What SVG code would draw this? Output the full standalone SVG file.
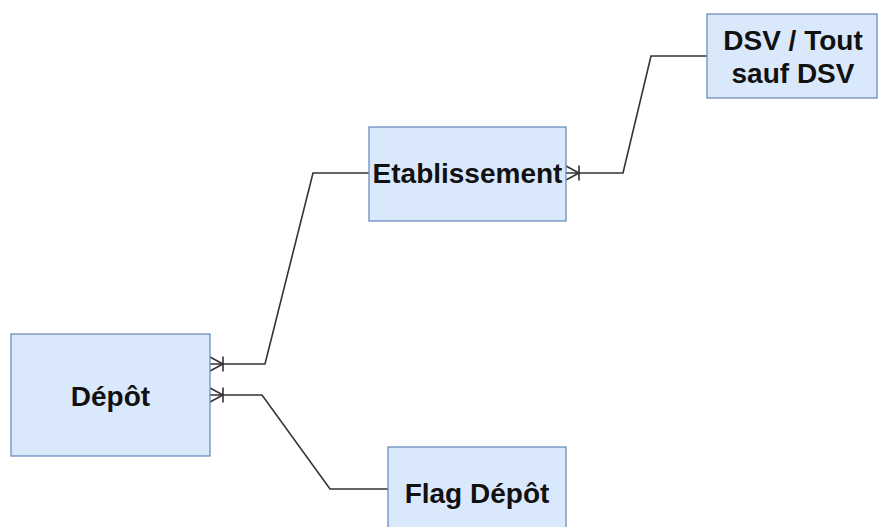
<svg xmlns="http://www.w3.org/2000/svg" width="880" height="527" viewBox="0 0 880 527">
<style>
.box{fill:#dae8fc;stroke:#6c8ebf;stroke-width:1.3}
.lbl{font-family:"Liberation Sans",Arial,sans-serif;font-weight:bold;font-size:28px;fill:#111;text-anchor:middle}
.edge{fill:none;stroke:#333;stroke-width:1.6}
</style>
<rect width="880" height="527" fill="#fff"/>
<g id="connectors">
<path class="edge" d="M210,364 H265 L313,173 H369"/>
<path class="edge" d="M210,357 L223,364 L210,371 M223,356.5 V371.5"/>
<path class="edge" d="M210,395 H262 L330,489 H388"/>
<path class="edge" d="M210,388 L223,395 L210,402 M223,387.5 V402.5"/>
<path class="edge" d="M566,173 H623 L651,56 H707"/>
<path class="edge" d="M566,166 L579,173 L566,180 M579,165.5 V180.5"/>
</g>
<g id="depot">
<rect class="box" x="11" y="334" width="199" height="122"/>
<text class="lbl" x="110.5" y="406">Dépôt</text>
</g>
<g id="etablissement">
<rect class="box" x="369" y="127" width="197" height="94"/>
<text class="lbl" x="467.5" y="183">Etablissement</text>
</g>
<g id="dsv">
<rect class="box" x="707" y="14" width="170" height="84"/>
<text class="lbl" x="793" y="50">DSV / Tout</text>
<text class="lbl" x="793" y="83">sauf DSV</text>
</g>
<g id="flag">
<rect class="box" x="388" y="447" width="178" height="90"/>
<text class="lbl" x="477" y="503">Flag Dépôt</text>
</g>
</svg>
